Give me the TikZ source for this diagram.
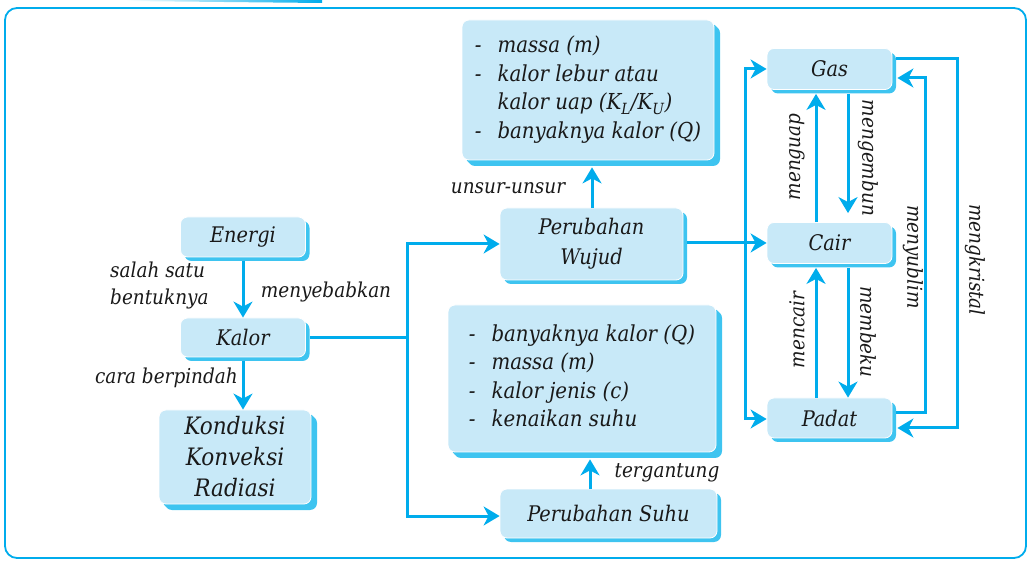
\documentclass[tikz,border=0pt]{standalone}
\usepackage{fontspec}
\setmainfont{DejaVu Serif Condensed}
\usetikzlibrary{arrows.meta,shadows}
\definecolor{boxfill}{RGB}{200,233,248}
\definecolor{boxshadow}{RGB}{62,196,240}
\definecolor{linec}{RGB}{0,172,236}
\begin{document}
\begin{tikzpicture}[x=1pt,y=-1pt,
  box/.style={draw=white, line width=0.8pt, fill=boxfill, rounded corners=7pt, inner sep=0pt,
    font=\fontsize{21.5}{28.5}\selectfont\itshape, text=black!90, align=center,
    drop shadow={shadow xshift=4pt, shadow yshift=-4pt, fill=boxshadow, opacity=1}},
  bigbox/.style={box, font=\fontsize{22}{28.5}\selectfont\itshape,
    drop shadow={shadow xshift=6pt, shadow yshift=-6pt, fill=boxshadow, opacity=1}},
  conn/.style={draw=linec, line width=3pt, -{Stealth[length=16pt,width=19pt,inset=5pt]}},
  plain/.style={draw=linec, line width=3pt},
  lab/.style={font=\fontsize{20.5}{27}\selectfont\itshape, text=black!90, inner sep=0pt},
]
\useasboundingbox (0,0) rectangle (1029,561);
% frame
\draw[linec, line width=1.8pt, rounded corners=12pt] (5,8) rectangle (1026,558);
\shade[left color=white, right color=linec] (125,0) -- (322,0) -- (322,3) -- (125,1) -- cycle;

% boxes
\node[box, minimum width=125pt, minimum height=40pt] (energi) at (243,237) {Energi};
\node[box, minimum width=125pt, minimum height=39pt] (kalor) at (243,337.5) {Kalor};
\node[bigbox, minimum width=152pt, minimum height=94pt, font=\fontsize{24}{31}\selectfont\itshape] (kond) at (235,457)
  {Konduksi\\Konveksi\\Radiasi};
\node[box, minimum width=183pt, minimum height=72pt, font=\fontsize{21.5}{30}\selectfont\itshape] (pw) at (591.5,244) {Perubahan\\Wujud};
\node[bigbox, minimum width=252pt, minimum height=140pt] (ltop) at (588,90)
  {\begin{tabular}{@{}l@{\hspace{16pt}}l@{}}
   - & massa (m)\\
   - & kalor lebur atau\\
     & kalor uap (K\textsubscript{L}/K\textsubscript{U})\\
   - & banyaknya kalor (Q)
   \end{tabular}};
\node[bigbox, minimum width=268pt, minimum height=147pt] (lbot) at (582,378.5)
  {\begin{tabular}{@{}l@{\hspace{16pt}}l@{}}
   - & banyaknya kalor (Q)\\
   - & massa (m)\\
   - & kalor jenis (c)\\
   - & kenaikan suhu
   \end{tabular}};
\node[box, minimum width=217pt, minimum height=49pt] (ps) at (608.5,513.5) {Perubahan Suhu};
\node[box, minimum width=125pt, minimum height=41pt] (gas) at (829.5,69) {Gas};
\node[box, minimum width=125pt, minimum height=41pt] (cair) at (829.5,243) {Cair};
\node[box, minimum width=125pt, minimum height=40pt] (padat) at (829.5,418) {Padat};

% left chain
\draw[conn] ([yshift=-4pt]energi.south) -- (kalor.north);
\draw[conn] ([yshift=-4pt]kalor.south) -- (kalor.south |- kond.north);
\node[lab, align=left, anchor=west] (l1) at (110,285) {salah satu\\bentuknya};
\node[lab] (l2) at (326,292) {menyebabkan};
\node[lab, anchor=east] (l3) at (238,378) {cara berpindah};

% split from Kalor
\coordinate (j0) at (407,338);
\coordinate (j1) at (407,244);
\coordinate (j2) at (407,516);
\draw[plain] ([xshift=4pt]kalor.east |- j0) -- (j0);
\draw[plain, line cap=rect] (j1) -- (j2);
\draw[conn] (j1) -- (pw.west |- j1);
\draw[conn] (j2) -- (ps.west |- j2);

% up to lists
\coordinate (pwup) at (592,208);
\coordinate (ltopb) at ([yshift=-7pt]ltop.south);
\draw[conn] (pwup) -- (pwup |- ltopb);
\node[lab] (l4) at (508,188) {unsur-unsur};
\coordinate (psup) at (590,489);
\coordinate (lbotb) at ([yshift=-7pt]lbot.south);
\draw[conn] (psup) -- (psup |- lbotb);
\node[lab] (l5) at (667,473) {tergantung};

% to states
\coordinate (v1) at (745,69);
\coordinate (v3) at (745,419);
\draw[plain, line cap=rect] (v1) -- (v3);
\draw[conn] (v1) -- (gas.west);
\draw[conn] ([xshift=4pt]pw.east |- cair.west) -- (cair.west);
\draw[conn] (v3) -- (padat.west |- v3);

% vertical transitions
\draw[conn] ([xshift=-13.5pt]cair.north) -- ([xshift=-13.5pt,yshift=-4pt]gas.south);
\node[lab, rotate=90] (l6) at (797,157) {menguap};
\draw[conn, shorten >=9pt] ([xshift=18.5pt,yshift=-4pt]gas.south) -- ([xshift=18.5pt]cair.north);
\node[lab, rotate=-90] (l7) at (868,158) {mengembun};
\draw[conn] ([xshift=-13.5pt]padat.north) -- ([xshift=-13.5pt,yshift=-4pt]cair.south);
\node[lab, rotate=90] (l8) at (797,330) {mencair};
\draw[conn] ([xshift=18.5pt,yshift=-4pt]cair.south) -- ([xshift=18.5pt]padat.north);
\node[lab, rotate=-90] (l9) at (868,332) {membeku};

% side loops
\coordinate (s1) at (925,413);
\coordinate (s2) at (925,78);
\draw[conn] ([xshift=4pt]padat.east |- s1) -- (s1) -- (s2) -- ([xshift=5pt]gas.east |- s2);
\node[lab, rotate=-90] (l10) at (913,257) {menyublim};
\coordinate (k1) at (957,59);
\coordinate (k2) at (957,428);
\draw[conn] ([xshift=4pt]gas.east |- k1) -- (k1) -- (k2) -- ([xshift=5pt]padat.east |- k2);
\node[lab, rotate=-90] (l11) at (975,260) {mengkristal};
\end{tikzpicture}
\end{document}
